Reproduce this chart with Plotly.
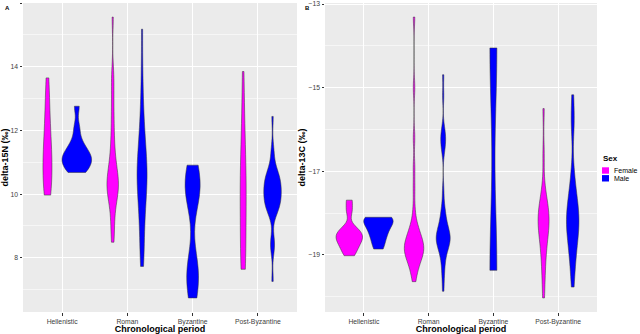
import numpy as np
import plotly.graph_objects as go

PERIODS = ["Hellenistic", "Roman", "Byzantine", "Post-Byzantine"]
SEXES = ["Female", "Male"]

# ---- delta-15N (‰), panel A ----
N15_HEL_F = [9.97, 10.05, 10.3, 10.6, 10.9, 11.1, 11.35, 11.6, 12.0, 12.5, 12.95, 13.65]
N15_HEL_M = [10.68, 10.75, 10.85, 10.95, 11.05, 11.1, 11.2, 11.25, 11.35, 11.5, 11.7, 12.1, 12.76]
N15_ROM_F = [8.49, 8.75, 9.1, 9.4, 9.65, 9.85, 9.95, 10.05, 10.12, 10.2, 10.27, 10.35, 10.42, 10.5,
             10.6, 10.72, 10.85, 11.0, 11.2, 11.45, 11.75, 12.1, 12.5, 12.95, 13.45, 13.8, 15.56]
N15_ROM_M = [7.73, 7.95, 8.3, 8.65, 8.95, 9.2, 9.45, 9.65, 9.85, 10.0, 10.15, 10.3, 10.45, 10.55,
             10.65, 10.78, 10.9, 11.05, 11.2, 11.38, 11.55, 11.75, 12.0, 12.3, 12.7, 13.2, 14.0, 15.18]
N15_BYZ_M = [6.74, 7.45, 7.55, 7.6, 10.0, 10.15, 10.25, 10.35, 10.91]
N15_PBZ_F = [7.64, 7.7, 7.9, 8.3, 8.8, 9.3, 9.7, 10.0, 10.3, 10.6, 10.9, 11.4, 12.0, 12.7, 13.85]
N15_PBZ_M = [7.26, 8.3, 8.42, 8.52, 9.4, 9.46, 9.52, 9.58, 9.64, 9.7, 9.76, 9.82, 9.88, 9.94, 10.0,
             10.04, 10.1, 10.16, 10.22, 10.28, 10.34, 10.4, 10.46, 10.52, 10.58, 10.64, 10.7, 10.76,
             11.2, 11.4, 12.44]

# ---- delta-13C (‰), panel B ----
C13_HEL_F = [-19.02, -18.9, -18.8, -18.72, -18.65, -18.59, -18.54, -18.49, -18.43, -18.35, -17.95, -17.69]
C13_HEL_M = [-18.86, -18.7, -18.55, -18.45, -18.35, -18.25, -18.18, -18.13, -18.1, -18.1]
C13_ROM_F = [-19.64, -19.45, -19.33, -19.24, -19.16, -19.1, -19.05, -19.0, -18.96, -18.93, -18.9,
             -18.87, -18.84, -18.81, -18.77, -18.73, -18.69, -18.65, -18.6, -18.55, -18.48, -18.42,
             -18.33, -18.22, -17.9, -17.4, -16.9, -16.2, -15.0, -13.31]
C13_ROM_M = [-19.87, -19.55, -19.35, -19.18, -19.05, -18.95, -18.88, -18.82, -18.77, -18.73, -18.69,
             -18.66, -18.63, -18.6, -18.57, -18.54, -18.5, -18.46, -18.42, -18.37, -18.31, -18.24,
             -18.16, -18.06, -17.95, -17.8, -17.45, -16.55, -16.38, -16.28, -16.2, -16.1, -15.95,
             -15.2, -14.69]
C13_BYZ_M = [-19.37, -14.05]
C13_PBZ_F = [-20.03, -19.6, -19.3, -19.05, -18.85, -18.7, -18.55, -18.45, -18.35, -18.27, -18.2,
             -18.13, -18.05, -17.97, -17.88, -17.78, -17.65, -17.4, -16.6, -15.5]
C13_PBZ_M = [-19.77, -19.4, -19.15, -18.95, -18.8, -18.65, -18.52, -18.42, -18.33, -18.25, -18.17,
             -18.09, -18.0, -17.9, -17.8, -17.68, -17.52, -17.3, -17.0, -15.9, -15.75, -15.17]

PANEL_A = {("Hellenistic", "Female"): N15_HEL_F, ("Hellenistic", "Male"): N15_HEL_M,
           ("Roman", "Female"): N15_ROM_F, ("Roman", "Male"): N15_ROM_M,
           ("Byzantine", "Male"): N15_BYZ_M,
           ("Post-Byzantine", "Female"): N15_PBZ_F, ("Post-Byzantine", "Male"): N15_PBZ_M}
PANEL_B = {("Hellenistic", "Female"): C13_HEL_F, ("Hellenistic", "Male"): C13_HEL_M,
           ("Roman", "Female"): C13_ROM_F, ("Roman", "Male"): C13_ROM_M,
           ("Byzantine", "Male"): C13_BYZ_M,
           ("Post-Byzantine", "Female"): C13_PBZ_F, ("Post-Byzantine", "Male"): C13_PBZ_M}

# ---- styles: kernel bandwidth multipliers and maximal violin widths (px) ----
ADJUST_A = {("Roman", "Female"): 0.7, ("Roman", "Male"): 0.8, ("Byzantine", "Male"): 0.75}
ADJUST_B = {("Roman", "Male"): 0.5}
WIDTH_PX_A = {("Hellenistic", "Female"): 9, ("Hellenistic", "Male"): 29.5,
              ("Roman", "Female"): 11.5, ("Roman", "Male"): 10, ("Byzantine", "Male"): 15,
              ("Post-Byzantine", "Female"): 6, ("Post-Byzantine", "Male"): 17.5}
WIDTH_PX_B = {("Hellenistic", "Female"): 26.5, ("Hellenistic", "Male"): 29.5,
              ("Roman", "Female"): 19.5, ("Roman", "Male"): 14, ("Byzantine", "Male"): 7,
              ("Post-Byzantine", "Female"): 11, ("Post-Byzantine", "Male"): 12.5}

COLORS = {"Female": "#FF00FF", "Male": "#0000FF"}
FONT = "Liberation Sans, Arial, sans-serif"
W, H = 640, 334
DODGE = 0.9
XDOM_A = [23, 297]
XDOM_B = [325, 597]
XRANGE = [0.4, 4.6]


def bw_nrd0(x):
    x = np.asarray(x, float)
    sd = np.std(x, ddof=1)
    q75, q25 = np.percentile(x, [75, 25])
    lo = min(sd, (q75 - q25) / 1.34)
    if lo <= 0:
        lo = sd if sd > 0 else 1.0
    return 0.9 * lo * len(x) ** -0.2


def panel_traces(panel, adjust, widths, dom, xa, ya, tag):
    unit_per_px = (XRANGE[1] - XRANGE[0]) / (dom[1] - dom[0])
    traces = []
    for i, per in enumerate(PERIODS, start=1):
        present = [s for s in SEXES if (per, s) in panel]
        slot = DODGE / len(present)
        for j, sex in enumerate(present):
            key = (per, sex)
            pos = i - DODGE / 2 + slot * (j + 0.5)
            bw = bw_nrd0(panel[key]) * adjust.get(key, 1.0)
            traces.append(go.Violin(
                y=panel[key], x0=pos, width=widths[key] * unit_per_px,
                bandwidth=bw, spanmode="hard", scalemode="width",
                scalegroup=f"{tag}-{per}-{sex}",
                points=False, fillcolor=COLORS[sex], opacity=1,
                line=dict(color="#333333", width=0.5),
                hoverinfo="skip", showlegend=False, xaxis=xa, yaxis=ya, name=sex))
    return traces


fig = go.Figure()
for t in (panel_traces(PANEL_A, ADJUST_A, WIDTH_PX_A, XDOM_A, "x", "y", "A")
          + panel_traces(PANEL_B, ADJUST_B, WIDTH_PX_B, XDOM_B, "x2", "y2", "B")):
    fig.add_trace(t)


def yrange(panel):
    allv = np.concatenate([np.asarray(v, float) for v in panel.values()])
    lo, hi = allv.min(), allv.max()
    pad = 0.05 * (hi - lo)
    return [lo - pad, hi + pad]


tickfont = dict(family=FONT, size=6.8, color="#404040")
titlefont = dict(family=FONT, size=9, color="black", weight="bold")
xcommon = dict(range=XRANGE, tickvals=[1, 2, 3, 4], ticktext=PERIODS,
               showgrid=True, gridcolor="white", gridwidth=1, zeroline=False,
               ticks="outside", ticklen=2.5, tickwidth=0.6, tickcolor="#333333",
               tickfont=tickfont, showline=False, automargin=False,
               title=dict(text="Chronological period", font=titlefont, standoff=1))
ycommon = dict(showgrid=True, gridcolor="white", gridwidth=1, zeroline=False,
               ticks="outside", ticklen=2.5, tickwidth=0.6, tickcolor="#333333",
               tickfont=tickfont, showline=False, automargin=False, dtick=2,
               minor=dict(dtick=1, showgrid=True, gridcolor="rgba(255,255,255,0.55)", gridwidth=0.6))
ydom = [(H - 312) / H, (H - 3) / H]

fig.update_layout(
    width=W, height=H, margin=dict(l=0, r=0, t=0, b=0),
    paper_bgcolor="white", plot_bgcolor="#EBEBEB",
    violinmode="overlay", showlegend=False,
    font=dict(family=FONT),
    xaxis=dict(xcommon, domain=[XDOM_A[0] / W, XDOM_A[1] / W], anchor="y"),
    yaxis=dict(ycommon, domain=ydom, anchor="x", range=yrange(PANEL_A), tick0=0,
               title=dict(text="delta-15N (‰)", font=titlefont, standoff=1)),
    xaxis2=dict(xcommon, domain=[XDOM_B[0] / W, XDOM_B[1] / W], anchor="y2"),
    yaxis2=dict(ycommon, domain=ydom, anchor="x2", range=yrange(PANEL_B), tick0=-19,
                title=dict(text="delta-13C (‰)", font=titlefont, standoff=1)),
)
fig.update_yaxes(minor_tick0=0)


def px(x):
    return x / W


def py(y):
    return 1 - y / H


ann = [
    dict(text="A", x=px(2.5), y=py(2.5), xanchor="left", yanchor="top",
         font=dict(family=FONT, size=6, color="black", weight="bold")),
    dict(text="B", x=px(302.5), y=py(2.5), xanchor="left", yanchor="top",
         font=dict(family=FONT, size=6, color="black", weight="bold")),
    dict(text="Sex", x=px(600.5), y=py(158), xanchor="left", yanchor="middle",
         font=dict(family=FONT, size=8, color="black", weight="bold")),
]
shapes = []
for k, sex in enumerate(SEXES):
    yc = 170.5 + 7.8 * k
    ann.append(dict(text=sex, x=px(611.5), y=py(yc), xanchor="left", yanchor="middle",
                    font=dict(family=FONT, size=7, color="black")))
    shapes.append(dict(type="rect", xref="paper", yref="paper",
                       x0=px(602), x1=px(609), y0=py(yc + 3.2), y1=py(yc - 3.2),
                       fillcolor=COLORS[sex], line=dict(width=0)))
for a in ann:
    a.update(xref="paper", yref="paper", showarrow=False)
fig.update_layout(annotations=ann, shapes=shapes)

fig.write_html("out.html")
